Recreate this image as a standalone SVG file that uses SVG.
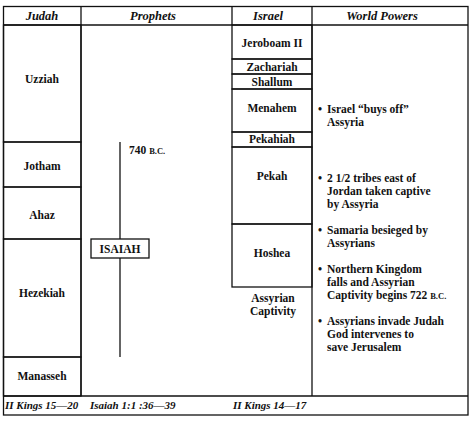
<svg xmlns="http://www.w3.org/2000/svg" width="474" height="421" viewBox="0 0 474 421">
<style>
.ln{stroke:#111;stroke-width:1.3;fill:none}
.bx{stroke:#111;stroke-width:1.3;fill:#fff}
.t{font-family:"Liberation Serif",serif;font-weight:bold;font-size:11.5px;fill:#111}
.c{text-anchor:middle}
.h{font-family:"Liberation Serif",serif;font-weight:bold;font-style:italic;font-size:12.5px;fill:#111;text-anchor:middle}
.f{font-family:"Liberation Serif",serif;font-weight:bold;font-style:italic;font-size:11px;fill:#111}
.sc{font-size:8.5px}
</style>
<rect width="474" height="421" fill="#fff"/>
<g id="frame">
<rect x="3.5" y="6.5" width="464.5" height="408.5" class="ln" stroke-width="1.8"/>
<line x1="3" y1="25" x2="468" y2="25" class="ln"/>
<line x1="3" y1="396" x2="468" y2="396" class="ln"/>
<line x1="81" y1="6" x2="81" y2="396" class="ln"/>
<line x1="232" y1="6" x2="232" y2="25" class="ln"/>
<line x1="312" y1="6" x2="312" y2="396" class="ln"/>
</g>
<g id="headers">
<text x="42" y="20" class="h">Judah</text>
<text x="153" y="20" class="h">Prophets</text>
<text x="268" y="20" class="h">Israel</text>
<text x="382" y="20" class="h">World Powers</text>
</g>
<g id="judah">
<g id="uzziah"><rect x="3.5" y="25" width="77.5" height="117" class="ln"/><text x="42" y="83" class="t c">Uzziah</text></g>
<g id="jotham"><rect x="3.5" y="142" width="77.5" height="45" class="ln"/><text x="42" y="170" class="t c">Jotham</text></g>
<g id="ahaz"><rect x="3.5" y="187" width="77.5" height="52" class="ln"/><text x="42" y="219" class="t c">Ahaz</text></g>
<g id="hezekiah"><rect x="3.5" y="239" width="77.5" height="118" class="ln"/><text x="42" y="297" class="t c">Hezekiah</text></g>
<g id="manasseh"><rect x="3.5" y="357" width="77.5" height="39" class="ln"/><text x="42" y="380" class="t c">Manasseh</text></g>
</g>
<g id="israel">
<g id="jeroboam"><rect x="232" y="25" width="80" height="34" class="ln"/><text x="272" y="47" class="t c">Jeroboam II</text></g>
<g id="zachariah"><rect x="232" y="59" width="80" height="15" class="ln"/><text x="272" y="71" class="t c">Zachariah</text></g>
<g id="shallum"><rect x="232" y="74" width="80" height="15" class="ln"/><text x="272" y="86" class="t c">Shallum</text></g>
<g id="menahem"><rect x="232" y="89" width="80" height="43" class="ln"/><text x="272" y="112" class="t c">Menahem</text></g>
<g id="pekahiah"><rect x="232" y="132" width="80" height="15" class="ln"/><text x="272" y="143" class="t c">Pekahiah</text></g>
<g id="pekah"><rect x="232" y="147" width="80" height="77" class="ln"/><text x="272" y="180" class="t c">Pekah</text></g>
<g id="hoshea"><rect x="232" y="224" width="80" height="63" class="ln"/><text x="272" y="257" class="t c">Hoshea</text></g>
<g id="captivity"><text x="273" y="302" class="t c">Assyrian</text><text x="273" y="315" class="t c">Captivity</text></g>
</g>
<g id="connectors">
<line x1="120" y1="142" x2="120" y2="357" class="ln"/>
</g>
<g id="date740"><text x="129" y="154" class="t">740 <tspan class="sc">B.C.</tspan></text></g>
<g id="isaiah"><rect x="91" y="239" width="58" height="19" class="bx"/><text x="120" y="253" class="t c">ISAIAH</text></g>
<g id="world">
<g id="w1"><text x="318" y="113" class="t">•</text><text x="327" y="113" class="t">Israel “buys off”</text><text x="327" y="126" class="t">Assyria</text></g>
<g id="w2"><text x="318" y="182" class="t">•</text><text x="327" y="182" class="t">2 1/2 tribes east of</text><text x="327" y="195" class="t">Jordan taken captive</text><text x="327" y="207.5" class="t">by Assyria</text></g>
<g id="w3"><text x="318" y="234" class="t">•</text><text x="327" y="234" class="t">Samaria besieged by</text><text x="327" y="247" class="t">Assyrians</text></g>
<g id="w4"><text x="318" y="273" class="t">•</text><text x="327" y="273" class="t">Northern Kingdom</text><text x="327" y="286" class="t">falls and Assyrian</text><text x="327" y="299" class="t">Captivity begins 722 <tspan class="sc">B.C.</tspan></text></g>
<g id="w5"><text x="318" y="325" class="t">•</text><text x="327" y="325" class="t">Assyrians invade Judah</text><text x="327" y="338" class="t">God intervenes to</text><text x="327" y="350.5" class="t">save Jerusalem</text></g>
</g>
<g id="footer">
<text x="5" y="409" class="f">II Kings 15—20</text>
<text x="90" y="409" class="f">Isaiah 1:1 :36—39</text>
<text x="233" y="409" class="f">II Kings 14—17</text>
</g>
</svg>
